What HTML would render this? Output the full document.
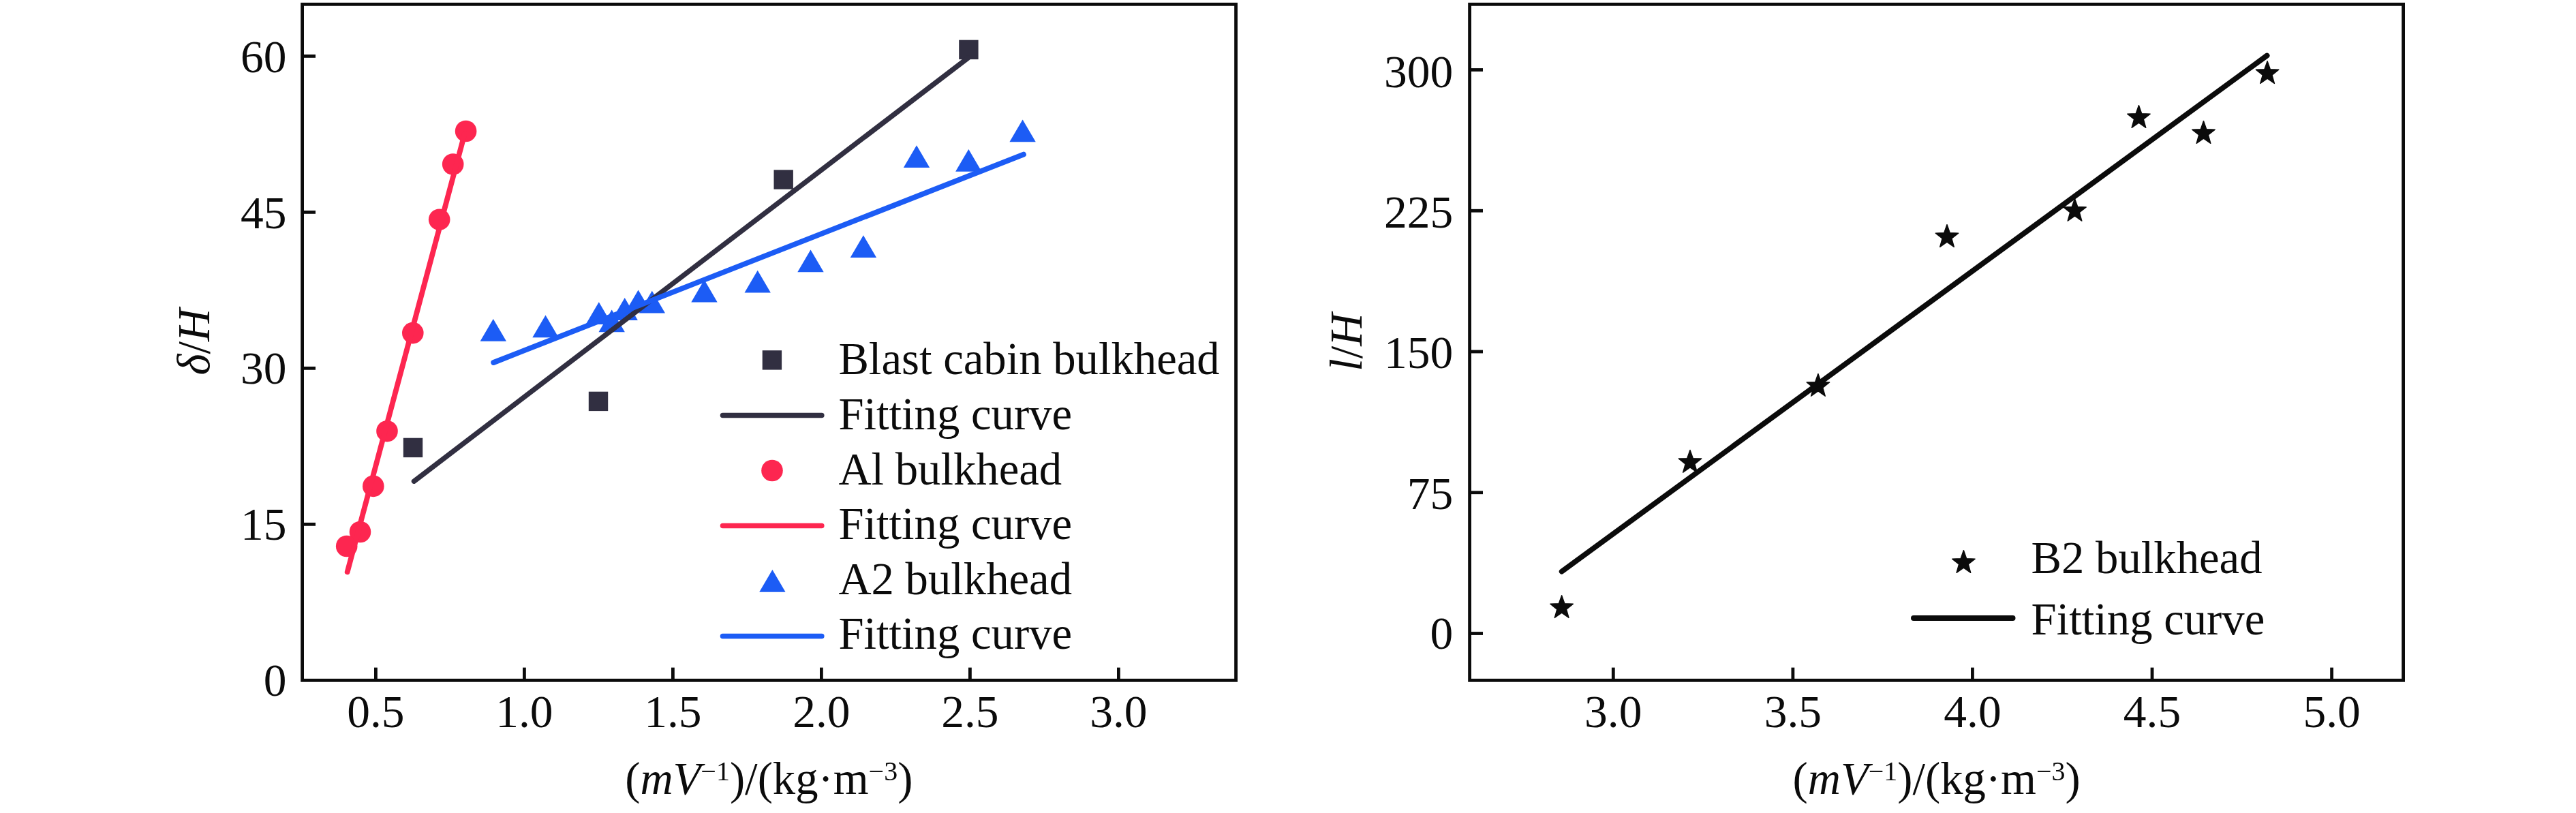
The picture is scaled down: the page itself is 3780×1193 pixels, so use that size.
<!DOCTYPE html>
<html><head><meta charset="utf-8"><title>Fitting curves</title>
<style>
html,body{margin:0;padding:0;background:#fff;}
svg{display:block;will-change:transform;}
text{font-family:"Liberation Serif",serif;font-size:66.7px;fill:#0b0b0b;}
.it{font-style:italic;}
.tk{font-size:67.5px;}
.sup{font-size:40.0px;}
</style></head>
<body>
<svg width="3780" height="1193" viewBox="0 0 3780 1193">
<rect x="0" y="0" width="3780" height="1193" fill="#ffffff"/>
<rect x="443.6" y="6.3" width="1370.00" height="992.00" fill="none" stroke="#0b0b0b" stroke-width="4.8"/>
<line x1="551.40" y1="998.3" x2="551.40" y2="979.60" stroke="#0b0b0b" stroke-width="4.8"/>
<text x="551.40" y="1066.8" text-anchor="middle" class="tk">0.5</text>
<line x1="769.40" y1="998.3" x2="769.40" y2="979.60" stroke="#0b0b0b" stroke-width="4.8"/>
<text x="769.40" y="1066.8" text-anchor="middle" class="tk">1.0</text>
<line x1="987.40" y1="998.3" x2="987.40" y2="979.60" stroke="#0b0b0b" stroke-width="4.8"/>
<text x="987.40" y="1066.8" text-anchor="middle" class="tk">1.5</text>
<line x1="1205.40" y1="998.3" x2="1205.40" y2="979.60" stroke="#0b0b0b" stroke-width="4.8"/>
<text x="1205.40" y="1066.8" text-anchor="middle" class="tk">2.0</text>
<line x1="1423.40" y1="998.3" x2="1423.40" y2="979.60" stroke="#0b0b0b" stroke-width="4.8"/>
<text x="1423.40" y="1066.8" text-anchor="middle" class="tk">2.5</text>
<line x1="1641.40" y1="998.3" x2="1641.40" y2="979.60" stroke="#0b0b0b" stroke-width="4.8"/>
<text x="1641.40" y="1066.8" text-anchor="middle" class="tk">3.0</text>
<text x="420.4" y="1020.60" text-anchor="end" class="tk">0</text>
<line x1="443.6" y1="769.32" x2="463.00" y2="769.32" stroke="#0b0b0b" stroke-width="4.8"/>
<text x="420.4" y="791.52" text-anchor="end" class="tk">15</text>
<line x1="443.6" y1="540.35" x2="463.00" y2="540.35" stroke="#0b0b0b" stroke-width="4.8"/>
<text x="420.4" y="563.15" text-anchor="end" class="tk">30</text>
<line x1="443.6" y1="311.38" x2="463.00" y2="311.38" stroke="#0b0b0b" stroke-width="4.8"/>
<text x="420.4" y="334.57" text-anchor="end" class="tk">45</text>
<line x1="443.6" y1="82.40" x2="463.00" y2="82.40" stroke="#0b0b0b" stroke-width="4.8"/>
<text x="420.4" y="106.00" text-anchor="end" class="tk">60</text>
<rect x="591.80" y="642.70" width="28.4" height="28.4" fill="#312f41"/>
<rect x="863.80" y="574.70" width="28.4" height="28.4" fill="#312f41"/>
<rect x="1135.50" y="249.30" width="28.4" height="28.4" fill="#312f41"/>
<rect x="1407.20" y="58.70" width="28.4" height="28.4" fill="#312f41"/>
<circle cx="683.6" cy="192.5" r="15.8" fill="#fd2650"/>
<circle cx="664.7" cy="241.0" r="15.8" fill="#fd2650"/>
<circle cx="644.7" cy="322.2" r="15.8" fill="#fd2650"/>
<circle cx="605.8" cy="488.6" r="15.8" fill="#fd2650"/>
<circle cx="568.0" cy="632.7" r="15.8" fill="#fd2650"/>
<circle cx="547.8" cy="713.4" r="15.8" fill="#fd2650"/>
<circle cx="528.5" cy="780.5" r="15.8" fill="#fd2650"/>
<circle cx="508.7" cy="801.5" r="15.8" fill="#fd2650"/>
<polygon points="723.8,468.0 743.0,500.8 704.6,500.8" fill="#1c5cf5"/>
<polygon points="800.5,462.4 819.7,495.2 781.3,495.2" fill="#1c5cf5"/>
<polygon points="878.8,443.2 898.0,476.0 859.6,476.0" fill="#1c5cf5"/>
<polygon points="897.7,454.5 916.9,487.3 878.5,487.3" fill="#1c5cf5"/>
<polygon points="916.7,437.1 935.9,469.9 897.5,469.9" fill="#1c5cf5"/>
<polygon points="936.6,425.5 955.8,458.3 917.4,458.3" fill="#1c5cf5"/>
<polygon points="956.8,426.7 976.0,459.5 937.6,459.5" fill="#1c5cf5"/>
<polygon points="1033.5,410.6 1052.7,443.4 1014.3,443.4" fill="#1c5cf5"/>
<polygon points="1111.7,396.7 1130.9,429.5 1092.5,429.5" fill="#1c5cf5"/>
<polygon points="1189.5,366.5 1208.7,399.3 1170.3,399.3" fill="#1c5cf5"/>
<polygon points="1266.9,345.2 1286.1,378.0 1247.7,378.0" fill="#1c5cf5"/>
<polygon points="1345.0,213.3 1364.2,246.1 1325.8,246.1" fill="#1c5cf5"/>
<polygon points="1421.3,219.0 1440.5,251.8 1402.1,251.8" fill="#1c5cf5"/>
<polygon points="1500.6,175.5 1519.8,208.3 1481.4,208.3" fill="#1c5cf5"/>
<line x1="607.5" y1="706.2" x2="1420.5" y2="85.0" stroke="#312f41" stroke-width="7.4" stroke-linecap="round"/>
<line x1="509.7" y1="839.2" x2="681.9" y2="196.0" stroke="#fd2650" stroke-width="7.8" stroke-linecap="round"/>
<line x1="724.2" y1="532.0" x2="1502.0" y2="226.6" stroke="#1c5cf5" stroke-width="7.8" stroke-linecap="round"/>
<text x="1230.4" y="549.2" text-anchor="start" >Blast cabin bulkhead</text>
<text x="1230.4" y="630.1" text-anchor="start" >Fitting curve</text>
<text x="1230.4" y="711.1" text-anchor="start" >Al bulkhead</text>
<text x="1230.4" y="790.8" text-anchor="start" >Fitting curve</text>
<text x="1230.4" y="871.9" text-anchor="start" >A2 bulkhead</text>
<text x="1230.4" y="952.2" text-anchor="start" >Fitting curve</text>
<rect x="1118.70" y="514.20" width="28.4" height="28.4" fill="#312f41"/>
<line x1="1060.5" y1="609.4" x2="1205.8" y2="609.4" stroke="#312f41" stroke-width="7.5" stroke-linecap="round"/>
<circle cx="1133" cy="690.5" r="15.8" fill="#fd2650"/>
<line x1="1060.5" y1="771.5" x2="1205.8" y2="771.5" stroke="#fd2650" stroke-width="7.5" stroke-linecap="round"/>
<polygon points="1133.4,836.0 1152.6,868.8 1114.2,868.8" fill="#1c5cf5"/>
<line x1="1060.5" y1="933.4" x2="1205.8" y2="933.4" stroke="#1c5cf5" stroke-width="7.5" stroke-linecap="round"/>
<text x="1128.3" y="1165.3" text-anchor="middle" >(<tspan class="it">mV</tspan><tspan class="sup" dy="-20.5">−1</tspan><tspan dy="20.5">)/(kg·m</tspan><tspan class="sup" dy="-20.5">−3</tspan><tspan dy="20.5">)</tspan></text>
<text transform="translate(307.3,501.7) rotate(-90)" text-anchor="middle"><tspan class="it">δ</tspan>/<tspan class="it">H</tspan></text>
<rect x="2156.6" y="6.3" width="1370.00" height="992.00" fill="none" stroke="#0b0b0b" stroke-width="4.8"/>
<line x1="2367.30" y1="998.3" x2="2367.30" y2="979.60" stroke="#0b0b0b" stroke-width="4.8"/>
<text x="2367.30" y="1066.8" text-anchor="middle" class="tk">3.0</text>
<line x1="2630.88" y1="998.3" x2="2630.88" y2="979.60" stroke="#0b0b0b" stroke-width="4.8"/>
<text x="2630.88" y="1066.8" text-anchor="middle" class="tk">3.5</text>
<line x1="2894.45" y1="998.3" x2="2894.45" y2="979.60" stroke="#0b0b0b" stroke-width="4.8"/>
<text x="2894.45" y="1066.8" text-anchor="middle" class="tk">4.0</text>
<line x1="3158.03" y1="998.3" x2="3158.03" y2="979.60" stroke="#0b0b0b" stroke-width="4.8"/>
<text x="3158.03" y="1066.8" text-anchor="middle" class="tk">4.5</text>
<line x1="3421.60" y1="998.3" x2="3421.60" y2="979.60" stroke="#0b0b0b" stroke-width="4.8"/>
<text x="3421.60" y="1066.8" text-anchor="middle" class="tk">5.0</text>
<line x1="2156.6" y1="929.50" x2="2176.00" y2="929.50" stroke="#0b0b0b" stroke-width="4.8"/>
<text x="2132.3" y="952.00" text-anchor="end" class="tk">0</text>
<line x1="2156.6" y1="722.75" x2="2176.00" y2="722.75" stroke="#0b0b0b" stroke-width="4.8"/>
<text x="2132.3" y="746.55" text-anchor="end" class="tk">75</text>
<line x1="2156.6" y1="516.00" x2="2176.00" y2="516.00" stroke="#0b0b0b" stroke-width="4.8"/>
<text x="2132.3" y="540.30" text-anchor="end" class="tk">150</text>
<line x1="2156.6" y1="309.25" x2="2176.00" y2="309.25" stroke="#0b0b0b" stroke-width="4.8"/>
<text x="2132.3" y="334.05" text-anchor="end" class="tk">225</text>
<line x1="2156.6" y1="102.50" x2="2176.00" y2="102.50" stroke="#0b0b0b" stroke-width="4.8"/>
<text x="2132.3" y="127.80" text-anchor="end" class="tk">300</text>
<polygon points="2291.65,873.70 2295.89,885.80 2308.39,886.21 2298.51,894.09 2302.00,906.44 2291.65,899.22 2281.30,906.44 2284.79,894.09 2274.91,886.21 2287.41,885.80" fill="#0b0b0b" stroke="#0b0b0b" stroke-width="1.4" stroke-linejoin="round"/>
<polygon points="2480.00,660.50 2484.24,672.60 2496.74,673.01 2486.86,680.89 2490.35,693.24 2480.00,686.02 2469.65,693.24 2473.14,680.89 2463.26,673.01 2475.76,672.60" fill="#0b0b0b" stroke="#0b0b0b" stroke-width="1.4" stroke-linejoin="round"/>
<polygon points="2667.90,548.50 2672.14,560.60 2684.64,561.01 2674.76,568.89 2678.25,581.24 2667.90,574.02 2657.55,581.24 2661.04,568.89 2651.16,561.01 2663.66,560.60" fill="#0b0b0b" stroke="#0b0b0b" stroke-width="1.4" stroke-linejoin="round"/>
<polygon points="2857.00,329.60 2861.24,341.70 2873.74,342.11 2863.86,349.99 2867.35,362.34 2857.00,355.12 2846.65,362.34 2850.14,349.99 2840.26,342.11 2852.76,341.70" fill="#0b0b0b" stroke="#0b0b0b" stroke-width="1.4" stroke-linejoin="round"/>
<polygon points="3044.50,291.40 3048.74,303.50 3061.24,303.91 3051.36,311.79 3054.85,324.14 3044.50,316.92 3034.15,324.14 3037.64,311.79 3027.76,303.91 3040.26,303.50" fill="#0b0b0b" stroke="#0b0b0b" stroke-width="1.4" stroke-linejoin="round"/>
<polygon points="3138.45,154.60 3142.69,166.70 3155.19,167.11 3145.31,174.99 3148.80,187.34 3138.45,180.12 3128.10,187.34 3131.59,174.99 3121.71,167.11 3134.21,166.70" fill="#0b0b0b" stroke="#0b0b0b" stroke-width="1.4" stroke-linejoin="round"/>
<polygon points="3233.50,177.60 3237.74,189.70 3250.24,190.11 3240.36,197.99 3243.85,210.34 3233.50,203.12 3223.15,210.34 3226.64,197.99 3216.76,190.11 3229.26,189.70" fill="#0b0b0b" stroke="#0b0b0b" stroke-width="1.4" stroke-linejoin="round"/>
<polygon points="3327.10,89.70 3331.34,101.80 3343.84,102.21 3333.96,110.09 3337.45,122.44 3327.10,115.22 3316.75,122.44 3320.24,110.09 3310.36,102.21 3322.86,101.80" fill="#0b0b0b" stroke="#0b0b0b" stroke-width="1.4" stroke-linejoin="round"/>
<line x1="2291.7" y1="838.6" x2="3326.6" y2="81.5" stroke="#0b0b0b" stroke-width="7.8" stroke-linecap="round"/>
<polygon points="2881.40,807.60 2885.64,819.70 2898.14,820.11 2888.26,827.99 2891.75,840.34 2881.40,833.12 2871.05,840.34 2874.54,827.99 2864.66,820.11 2877.16,819.70" fill="#0b0b0b" stroke="#0b0b0b" stroke-width="1.4" stroke-linejoin="round"/>
<line x1="2808.0" y1="906.9" x2="2953.5" y2="906.9" stroke="#0b0b0b" stroke-width="8.0" stroke-linecap="round"/>
<text x="2980.6" y="841.0" text-anchor="start" >B2 bulkhead</text>
<text x="2980.6" y="931.2" text-anchor="start" >Fitting curve</text>
<text x="2841.6" y="1165.3" text-anchor="middle" >(<tspan class="it">mV</tspan><tspan class="sup" dy="-20.5">−1</tspan><tspan dy="20.5">)/(kg·m</tspan><tspan class="sup" dy="-20.5">−3</tspan><tspan dy="20.5">)</tspan></text>
<text transform="translate(1997.5,502.2) rotate(-90)" text-anchor="middle"><tspan class="it">l</tspan>/<tspan class="it">H</tspan></text>
</svg>
</body></html>
